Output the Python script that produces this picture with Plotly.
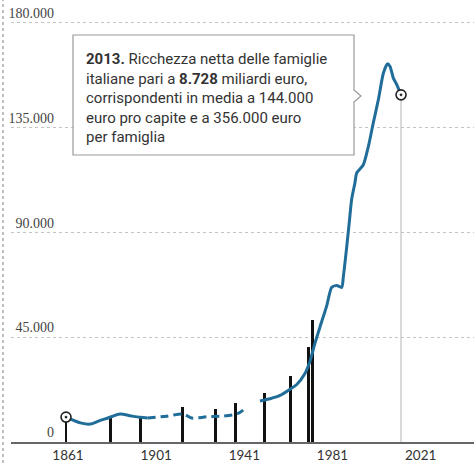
import plotly.graph_objects as go

# ---- data ----
seg1_years = [1861, 1868, 1872, 1876, 1880, 1885.5, 1890, 1894.6, 1898]
seg1_vals = [10700, 8100, 7700, 9100, 10300, 12000, 11300, 10600, 10300]

seg2_years = [1898, 1906.7, 1914.2, 1918, 1924.8, 1932, 1938.5, 1941.4]
seg2_vals = [10300, 11100, 12000, 10300, 10800, 11100, 12000, 13700]

seg3_years = [1949, 1953.6, 1958.1, 1963, 1965.7, 1969.4, 1971.7, 1974, 1976.2,
              1979.3, 1981.5, 1983.8, 1986.1, 1986.8, 1988.4, 1989.5, 1990.6,
              1992.1, 1992.9, 1995.9, 1998.2, 2000.4, 2002.7, 2005, 2006.8,
              2008, 2009.5, 2011.1, 2013]
seg3_vals = [17600, 18600, 20000, 22900, 24700, 29400, 34700, 42600, 49300,
             58600, 66400, 67200, 66400, 70700, 84200, 94200, 104300,
             111400, 115600, 119100, 127000, 137000, 147000, 158500, 162400,
             161300, 156300, 153400, 149100]

bar_years = [1861, 1881, 1895, 1914, 1929, 1938, 1951, 1963, 1971, 1973]
bar_vals = [10700, 11100, 10700, 15000, 14100, 16700, 21000, 28300, 40700, 52300]

y_tick_vals = [0, 45000, 90000, 135000, 180000]
y_tick_text = ["0", "45.000", "90.000", "135.000", "180.000"]
x_tick_vals = [1861, 1901, 1941, 1981, 2021]
x_tick_text = ["1861", "1901", "1941", "1981", "2021"]

note_text = ("<b>2013.</b> Ricchezza netta delle famiglie<br>"
             "italiane pari a <b>8.728</b> miliardi euro,<br>"
             "corrispondenti in media a 144.000<br>"
             "euro pro capite e a 356.000 euro<br>"
             "per famiglia")

# ---- layout geometry (pixels) ----
W, H = 474, 463
ML, MR, MT, MB = 11, 0, 0, 21
PW, PH = W - ML - MR, H - MT - MB
PX_PER_1000 = 2.3333


def px(x):
    return (x - ML) / PW


def py(y):
    return (H - MB - y) / PH


BLUE = "#1f6d98"

fig = go.Figure()

fig.add_trace(go.Bar(x=bar_years, y=bar_vals, width=1.35,
                     marker=dict(color="#111111", line=dict(width=0)),
                     hoverinfo="skip"))

# vertical reference line at final point
fig.add_shape(type="line", xref="x", yref="y",
              x0=seg3_years[-1], x1=seg3_years[-1], y0=0, y1=seg3_vals[-1],
              line=dict(color="#cccccc", width=1.5), layer="below")

fig.add_trace(go.Scatter(x=seg1_years, y=seg1_vals, mode="lines",
                         line=dict(color=BLUE, width=3, shape="spline", smoothing=0.8)))
fig.add_trace(go.Scatter(x=seg2_years, y=seg2_vals, mode="lines",
                         line=dict(color=BLUE, width=3, dash="8px,5px",
                                   shape="spline", smoothing=0.8)))
fig.add_trace(go.Scatter(x=seg3_years, y=seg3_vals, mode="lines",
                         line=dict(color=BLUE, width=3, shape="spline", smoothing=0.6)))

fig.add_trace(go.Scatter(x=[seg1_years[0], seg3_years[-1]],
                         y=[seg1_vals[0], seg3_vals[-1]], mode="markers",
                         marker=dict(symbol="circle-dot", size=10, color="white",
                                     line=dict(color="#222222", width=1.6))))

# callout box with notch
box_path = ("M {a},{b} L {c},{b} L {c},{n1} L {t},{nm} L {c},{n2} L {c},{d} L {a},{d} Z"
            .format(a=px(73), c=px(354), t=px(361), b=py(35), d=py(155),
                    n1=py(90), nm=py(96), n2=py(102)))
fig.add_shape(type="path", xref="paper", yref="paper", path=box_path,
              fillcolor="white", line=dict(color="#9a9a9a", width=1.2))

fig.add_annotation(xref="paper", yref="paper", x=px(84), y=py(48),
                   xanchor="left", yanchor="top", align="left",
                   showarrow=False, text=note_text,
                   font=dict(family="Roboto", size=15, color="#333333"))

# left dotted border
fig.add_shape(type="line", xref="paper", yref="paper",
              x0=px(3), x1=px(3), y0=py(H), y1=py(0),
              line=dict(color="#aaaaaa", width=1.5, dash="dot"))

fig.update_layout(
    width=W, height=H, margin=dict(l=ML, r=MR, t=MT, b=MB, autoexpand=False),
    paper_bgcolor="white", plot_bgcolor="white",
    showlegend=False, bargap=0, hovermode=False,
    xaxis=dict(range=[1836.05, 2046.1], tickvals=x_tick_vals, ticktext=x_tick_text,
               showgrid=False, zeroline=False, showline=True,
               linecolor="#666666", linewidth=1.5, ticks="", ticklen=0,
               ticklabelshift=2, automargin=False,
               tickfont=dict(family="Lato", size=13.5, color="#333333")),
    yaxis=dict(range=[0, PH / PX_PER_1000 * 1000 + 400], tickvals=y_tick_vals,
               ticktext=y_tick_text,
               showgrid=True, gridcolor="#c4c4c4", griddash="dot", gridwidth=1,
               zeroline=False, showline=False, ticks="", ticklen=0,
               anchor="free", position=px(54), automargin=False,
               ticklabelposition="outside top",
               tickfont=dict(family="Liberation Serif", size=14, color="#444444")),
)

fig.write_html("out.html", config={"displayModeBar": False},
               post_script="document.body.style.margin='0';"
                           "document.body.style.overflow='hidden';")
